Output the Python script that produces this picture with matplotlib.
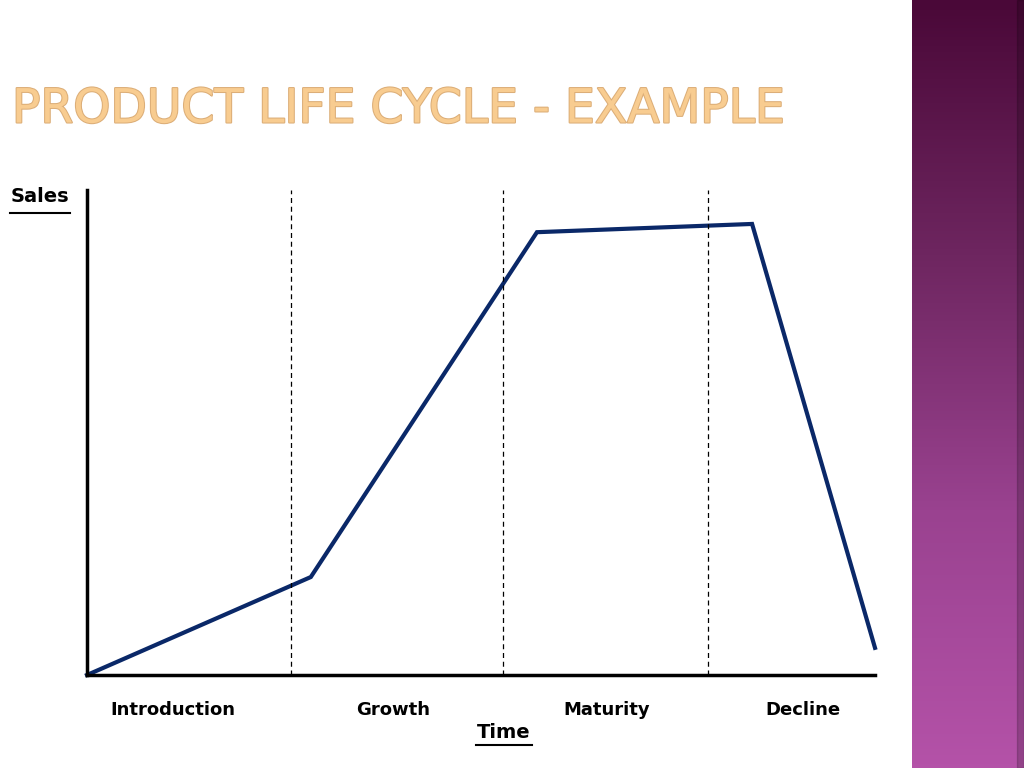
import numpy as np
import matplotlib.pyplot as plt
from matplotlib.lines import Line2D
from matplotlib.colors import LinearSegmentedColormap
import matplotlib.patheffects as pe

# curve of the product life cycle (time, sales)
time_pts = [0.0, 2.84, 5.71, 8.44, 10.0]
sales_pts = [0.0, 20.2, 91.3, 93.0, 5.6]

# stage boundaries and stage labels
stage_bounds = [2.59, 5.28, 7.88]
stage_names = ["Introduction", "Growth", "Maturity", "Decline"]
stage_centers = [1.09, 3.88, 6.59, 9.09]

W, H = 1024, 768
fig = plt.figure(figsize=(W / 100, H / 100), dpi=100)
fig.patch.set_facecolor("white")

# purple band on the right
band = fig.add_axes([912 / W, 0, 112 / W, 1])
grad = np.linspace(0, 1, 256).reshape(-1, 1)
cmap = LinearSegmentedColormap.from_list("band", ["#4a0838", "#6e2660", "#9a4290", "#b452a8"])
band.imshow(grad, aspect="auto", cmap=cmap, extent=[0, 1, 1, 0])
band.axvspan(0.94, 1.0, color="black", alpha=0.18)
band.set_axis_off()

# title
fig.text(12 / W, 1 - 110 / H, "PRODUCT LIFE CYCLE - EXAMPLE", fontsize=34,
         color="#f8cc90", va="center", ha="left", family="DejaVu Sans",
         path_effects=[pe.withStroke(linewidth=1.5, foreground="#dcae78")])

# main chart
ax = fig.add_axes([87 / W, 93 / H, 788 / W, 485 / H])
ax.plot(time_pts, sales_pts, color="#0a2868", lw=3, solid_joinstyle="miter",
        clip_on=False)
for b in stage_bounds:
    ax.axvline(b, color="black", lw=0.9, ls=(0, (4, 3)))
ax.set_xlim(0, 10)
ax.set_ylim(0, 100)
ax.set_xticks([])
ax.set_yticks([])
for s in ["top", "right"]:
    ax.spines[s].set_visible(False)
ax.spines["left"].set_linewidth(2.5)
ax.spines["bottom"].set_linewidth(2.5)

for x, name in zip(stage_centers, stage_names):
    ax.text(x, -7.3, name, ha="center", va="center", fontsize=13,
            fontweight="bold", clip_on=False)

# axis titles with underline
fig.text(40 / W, 1 - 197 / H, "Sales", ha="center", va="center",
         fontsize=14, fontweight="bold")
fig.add_artist(Line2D([10 / W, 70 / W], [1 - 213 / H, 1 - 213 / H],
                      color="black", lw=1.5))
fig.text(504 / W, 1 - 732 / H, "Time", ha="center", va="center",
         fontsize=14, fontweight="bold")
fig.add_artist(Line2D([476 / W, 532 / W], [1 - 745 / H, 1 - 745 / H],
                      color="black", lw=1.5))

fig.savefig("out.png", dpi=100)
